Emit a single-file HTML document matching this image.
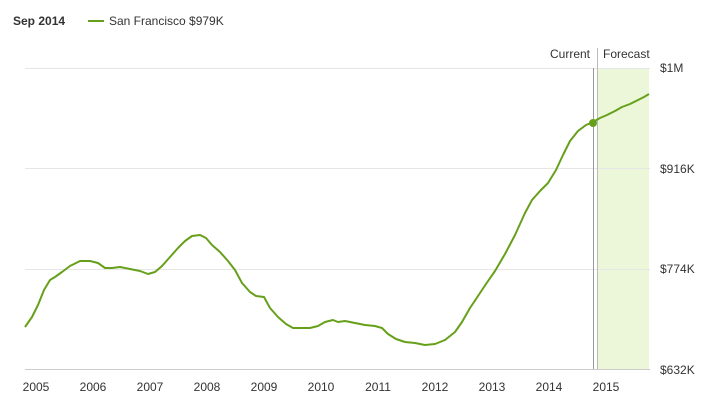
<!DOCTYPE html><html><head><style>body{margin:0;background:#fff}svg{display:block;font-family:"Liberation Sans",Arial,sans-serif}</style></head><body>
<svg width="723" height="417" viewBox="0 0 723 417">
<text x="13" y="25" font-size="12" font-weight="bold" fill="#333">Sep 2014</text>
<line x1="88" y1="21" x2="104" y2="21" stroke="#66a01a" stroke-width="2"/>
<text x="109" y="25" font-size="12" fill="#333">San Francisco $979K</text>
<rect x="597" y="68" width="52" height="301" fill="#ecf7da"/>
<g stroke="#e6e6e6" stroke-width="1">
<line x1="25" y1="68.5" x2="650" y2="68.5"/><line x1="25" y1="168.5" x2="650" y2="168.5"/><line x1="25" y1="269.5" x2="650" y2="269.5"/></g>
<line x1="25" y1="369.5" x2="650" y2="369.5" stroke="#ccc"/>
<line x1="593.5" y1="68" x2="593.5" y2="369" stroke="#999"/>
<line x1="597.5" y1="48" x2="597.5" y2="369" stroke="#bbb"/>
<text x="590" y="58" font-size="12" fill="#333" text-anchor="end">Current</text>
<text x="603" y="58" font-size="12" fill="#333">Forecast</text>
<g font-size="12" fill="#333">
<text x="660" y="72">$1M</text><text x="660" y="173">$916K</text><text x="660" y="273">$774K</text><text x="660" y="374">$632K</text>
<g text-anchor="middle"><text x="36" y="391">2005</text><text x="93" y="391">2006</text><text x="150" y="391">2007</text><text x="207" y="391">2008</text><text x="264" y="391">2009</text><text x="321" y="391">2010</text><text x="378" y="391">2011</text><text x="435" y="391">2012</text><text x="492" y="391">2013</text><text x="549" y="391">2014</text><text x="606" y="391">2015</text></g></g>
<polyline fill="none" stroke="#66a01a" stroke-width="2" stroke-linejoin="round" points="25,327 32,317 38,305 44,290 50,280 55,277 62,272 70,266 80,261 90,261 98,263 105,268 112,268 120,267 130,269 140,271 148,274 155,272 162,266 170,257 178,248 185,241 192,236 200,235 206,238 212,245 220,252 228,261 235,270 242,283 250,292 256,296 264,297 270,308 278,317 286,324 293,328 300,328 310,328 318,326 325,322 333,320 338,322 345,321 355,323 365,325 375,326 382,328 388,334 396,339 405,342 415,343 425,345 435,344 445,340 455,332 462,322 470,308 478,296 486,284 495,271 505,254 515,235 525,213 532,200 540,191 548,183 556,170 563,155 570,141 578,131 586,125 593,122 600,118 607,115 615,111 622,107 630,104 638,100 644,97 649,94"/>
<circle cx="593" cy="123" r="4" fill="#66a01a"/>
</svg></body></html>
